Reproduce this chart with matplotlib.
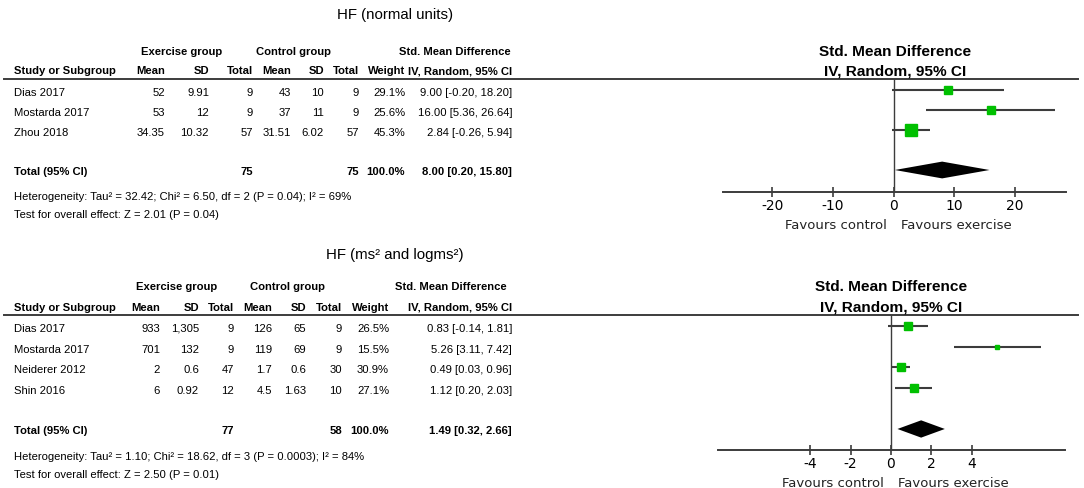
import numpy as np
import matplotlib.pyplot as plt
from matplotlib import transforms
from matplotlib.lines import Line2D

# ---- HF (normal units) ----
nu_studies = ['Dias 2017', 'Mostarda 2017', 'Zhou 2018']
nu_ex_mean = [52, 53, 34.35]
nu_ex_sd = [9.91, 12, 10.32]
nu_ex_n = [9, 9, 57]
nu_ct_mean = [43, 37, 31.51]
nu_ct_sd = [10, 11, 6.02]
nu_ct_n = [9, 9, 57]
nu_weight = [29.1, 25.6, 45.3]
nu_smd = [9.00, 16.00, 2.84]
nu_lo = [-0.20, 5.36, -0.26]
nu_hi = [18.20, 26.64, 5.94]
nu_total_ex = 75
nu_total_ct = 75
nu_pooled = [8.00, 0.20, 15.80]
nu_het = 'Heterogeneity: Tau\u00b2 = 32.42; Chi\u00b2 = 6.50, df = 2 (P = 0.04); I\u00b2 = 69%'
nu_test = 'Test for overall effect: Z = 2.01 (P = 0.04)'
nu_ticks = [-20, -10, 0, 10, 20]

# ---- HF (ms2 and logms2) ----
ms_studies = ['Dias 2017', 'Mostarda 2017', 'Neiderer 2012', 'Shin 2016']
ms_ex_mean = [933, 701, 2, 6]
ms_ex_sd = [1305, 132, 0.6, 0.92]
ms_ex_n = [9, 9, 47, 12]
ms_ct_mean = [126, 119, 1.7, 4.5]
ms_ct_sd = [65, 69, 0.6, 1.63]
ms_ct_n = [9, 9, 30, 10]
ms_weight = [26.5, 15.5, 30.9, 27.1]
ms_smd = [0.83, 5.26, 0.49, 1.12]
ms_lo = [-0.14, 3.11, 0.03, 0.20]
ms_hi = [1.81, 7.42, 0.96, 2.03]
ms_total_ex = 77
ms_total_ct = 58
ms_pooled = [1.49, 0.32, 2.66]
ms_het = 'Heterogeneity: Tau\u00b2 = 1.10; Chi\u00b2 = 18.62, df = 3 (P = 0.0003); I\u00b2 = 84%'
ms_test = 'Test for overall effect: Z = 2.50 (P = 0.01)'
ms_ticks = [-4, -2, 0, 2, 4]

W, H = 1084, 489
NARROW = ['Liberation Sans', 'DejaVu Sans']
GREEN = '#00c000'
DARK = '#3c3c3c'
FS = 8.1

fig = plt.figure(figsize=(W / 100, H / 100), dpi=100)


def px(x):
    return x / W


def py(y):
    return 1 - y / H


def fmt(v):
    return '{:,g}'.format(v)


def panel(title, studies, ex_mean, ex_sd, ex_n, ct_mean, ct_sd, ct_n, weight,
          smd, lo, hi, tot_ex, tot_ct, pooled, het, test, ticks, L):
    n = len(studies)
    rows = np.arange(n)
    total_row = n + 1

    # forest axes
    ax = fig.add_axes([px(L['box'][0]), py(L['box'][3]),
                       px(L['box'][1] - L['box'][0]), (L['box'][3] - L['box'][2]) / H])
    ax.set_xlim(L['xlim'])
    ax.set_ylim(L['ylim'])
    for s in ['top', 'left', 'right']:
        ax.spines[s].set_visible(False)
    ax.spines['bottom'].set_linewidth(1.4)
    ax.spines['bottom'].set_color(DARK)
    ax.set_yticks([])
    ax.set_xticks(ticks)
    ax.set_xticklabels([str(t) for t in ticks])
    ax.tick_params(axis='x', direction='inout', length=7, width=1.2, color=DARK,
                   pad=1, labelsize=10)
    ax.axvline(0, color=DARK, lw=1.0)
    ax.hlines(rows, lo, hi, color=DARK, lw=1.5)
    for r, e, w in zip(rows, smd, weight):
        ax.plot(e, r, marker='s', ms=0.205 * w, color=GREEN, mec=GREEN, ls='none')
    est, plo, phi = pooled
    h = 0.42
    ax.fill([plo, est, phi, est], [total_row, total_row - h, total_row, total_row + h],
            color='black', lw=0)
    ax.annotate('Favours control', xy=(0, 0), xycoords=('data', 'axes fraction'),
                xytext=(-5, -23.5), textcoords='offset points', ha='right', va='center',
                fontsize=9.5, color='#222222')
    ax.annotate('Favours exercise', xy=(0, 0), xycoords=('data', 'axes fraction'),
                xytext=(5, -23.5), textcoords='offset points', ha='left', va='center',
                fontsize=9.5, color='#222222')

    # title and headers
    fig.text(px(395), py(L['title_y']), title, ha='center', va='center',
             family=NARROW, fontsize=10.8)
    hb = dict(va='center', family=NARROW, fontsize=FS, fontweight='bold')
    fig.text(px(L['grp'][0]), py(L['h1']), 'Exercise group', ha='center', **hb)
    fig.text(px(L['grp'][1]), py(L['h1']), 'Control group', ha='center', **hb)
    fig.text(px(L['grp'][2]), py(L['h1']), 'Std. Mean Difference', ha='center', **hb)
    fig.text(px(14), py(L['h2']), 'Study or Subgroup', ha='left', **hb)
    heads = ['Mean', 'SD', 'Total', 'Mean', 'SD', 'Total', 'Weight', 'IV, Random, 95% CI']
    for x, t in zip(L['cols'], heads):
        fig.text(px(x), py(L['h2']), t, ha='right', **hb)
    fb = dict(va='center', family=NARROW, fontsize=11.1, fontweight='bold')
    fig.text(px(L['fx']), py(L['h1']), 'Std. Mean Difference', ha='center', **fb)
    fig.text(px(L['fx']), py(L['h2']), 'IV, Random, 95% CI', ha='center', **fb)
    fig.add_artist(Line2D([px(4), px(1078)], [py(L['line'])] * 2,
                          transform=fig.transFigure, color=DARK, lw=1.4))

    # table rows
    tr = transforms.blended_transform_factory(fig.transFigure, ax.transData)
    tb = dict(va='center', family=NARROW, fontsize=FS, transform=tr)
    for i in range(n):
        y = rows[i] + 0.1
        cells = [fmt(ex_mean[i]), fmt(ex_sd[i]), str(ex_n[i]), fmt(ct_mean[i]),
                 fmt(ct_sd[i]), str(ct_n[i]), '{:.1f}%'.format(weight[i]),
                 '{:.2f} [{:.2f}, {:.2f}]'.format(smd[i], lo[i], hi[i])]
        ax.text(px(14), y, studies[i], ha='left', **tb)
        for x, c in zip(L['cols'], cells):
            ax.text(px(x), y, c, ha='right', **tb)
    y = total_row + 0.05
    ax.text(px(14), y, 'Total (95% CI)', ha='left', fontweight='bold', **tb)
    tot_cells = {2: str(tot_ex), 5: str(tot_ct), 6: '100.0%',
                 7: '{:.2f} [{:.2f}, {:.2f}]'.format(est, plo, phi)}
    for k, c in tot_cells.items():
        ax.text(px(L['cols'][k]), y, c, ha='right', fontweight='bold', **tb)
    fig.text(px(14), py(L['het_y']), het, ha='left', va='center', family=NARROW, fontsize=FS)
    fig.text(px(14), py(L['test_y']), test, ha='left', va='center', family=NARROW, fontsize=FS)


top_layout = dict(box=(723, 1066, 80, 193), xlim=(-28.1, 28.4), ylim=(5.1, -0.55),
                  title_y=15, h1=52, h2=71, line=80, fx=895,
                  grp=(182, 293, 455),
                  cols=(165, 209, 253, 291, 324, 359, 405, 512),
                  het_y=197, test_y=215)
bot_layout = dict(box=(718, 1065, 316, 451), xlim=(-8.55, 8.6), ylim=(6.02, -0.53),
                  title_y=255, h1=287, h2=308, line=316, fx=891,
                  grp=(177, 288, 451),
                  cols=(160, 199, 234, 272, 306, 342, 389, 512),
                  het_y=457, test_y=475)

panel('HF (normal units)', nu_studies, nu_ex_mean, nu_ex_sd, nu_ex_n, nu_ct_mean,
      nu_ct_sd, nu_ct_n, nu_weight, nu_smd, nu_lo, nu_hi, nu_total_ex, nu_total_ct,
      nu_pooled, nu_het, nu_test, nu_ticks, top_layout)
panel('HF (ms\u00b2 and logms\u00b2)', ms_studies, ms_ex_mean, ms_ex_sd, ms_ex_n, ms_ct_mean,
      ms_ct_sd, ms_ct_n, ms_weight, ms_smd, ms_lo, ms_hi, ms_total_ex, ms_total_ct,
      ms_pooled, ms_het, ms_test, ms_ticks, bot_layout)

fig.savefig('out.png', dpi=100, facecolor='white')
